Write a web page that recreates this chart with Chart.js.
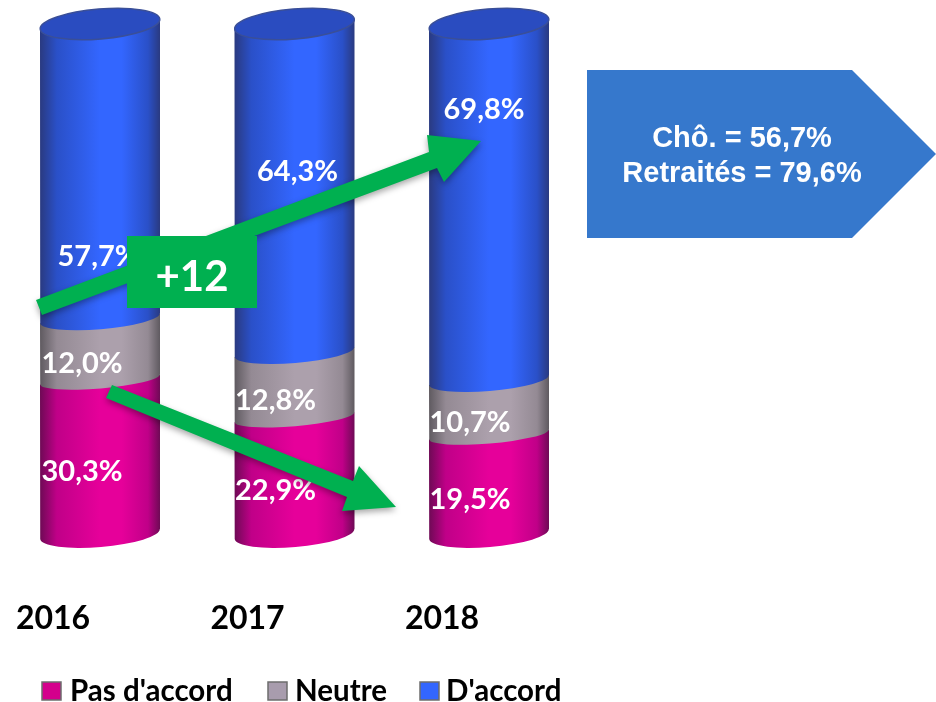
<!DOCTYPE html>
<html>
<head>
<meta charset="utf-8">
<script src="https://cdn.jsdelivr.net/npm/chart.js@4"></script>
<style>
  html, body { margin: 0; padding: 0; background: #fff; overflow: hidden; }
  #wrap { width: 936px; height: 702px; }
</style>
</head>
<body>
<div id="wrap"><canvas id="chart" width="936" height="702"></canvas></div>
<script>
const years = ['2016', '2017', '2018'];
const pasAccord = [30.3, 22.9, 19.5];
const neutre = [12.0, 12.8, 10.7];
const accord = [57.7, 64.3, 69.8];

// labels were placed by hand in the original, so they sit off the segment centre
const labelShiftX = [[-18, -19, -19], [-18, -19, -19], [-2, 3, -5]];
const labelShiftY = [[15, 15, 15], [15, 16, 15], [86, -16, -92]];

const TILT = Math.atan(-10 / 120);
const FONT = 'Lato, sans-serif';

// edge, mid, centre colours of each cylinder segment
const shades = [
  ['#6e0a55', '#c00088', '#e6009a'],
  ['#5f5a60', '#948a94', '#aca0ac'],
  ['#2a3a80', '#2a50c8', '#3366ff']
];
const bulges = [13, 9, 11];

function bodyGradient(ctx, left, right, s) {
  const g = ctx.createLinearGradient(left, 0, right, 0);
  g.addColorStop(0, s[0]);
  g.addColorStop(0.14, s[1]);
  g.addColorStop(0.5, s[2]);
  g.addColorStop(0.68, s[2]);
  g.addColorStop(0.9, s[1]);
  g.addColorStop(1, s[0]);
  return g;
}

function drawSegment(ctx, bar, s, bulge) {
  const rx = bar.width / 2;
  const dy = Math.sin(TILT) * rx;
  ctx.beginPath();
  ctx.moveTo(bar.x - rx, bar.y - dy);
  ctx.lineTo(bar.x + rx, bar.y + dy);
  ctx.lineTo(bar.x + rx, bar.base + dy);
  ctx.ellipse(bar.x, bar.base, rx, bulge, TILT, 0, Math.PI);
  ctx.closePath();
  ctx.fillStyle = bodyGradient(ctx, bar.x - rx, bar.x + rx, s);
  ctx.fill();
}

function polygon(ctx, pts, color) {
  ctx.save();
  ctx.shadowColor = 'rgba(0,0,0,0.35)';
  ctx.shadowBlur = 6;
  ctx.shadowOffsetY = 3;
  ctx.beginPath();
  pts.forEach((p, i) => i ? ctx.lineTo(p[0], p[1]) : ctx.moveTo(p[0], p[1]));
  ctx.closePath();
  ctx.fillStyle = color;
  ctx.fill();
  ctx.restore();
}

const cylinders = {
  id: 'cylinders',
  beforeDatasetDraw() {
    return false; // bars are painted below, bottom segment first
  },
  afterDatasetsDraw(chart) {
    const ctx = chart.ctx;
    ctx.save();
    chart.data.datasets.forEach((ds, d) => {
      chart.getDatasetMeta(d).data.forEach(bar => {
        drawSegment(ctx, bar, shades[d], bulges[d]);
      });
    });
    // open top of each cylinder
    chart.getDatasetMeta(2).data.forEach(bar => {
      ctx.beginPath();
      ctx.ellipse(bar.x, bar.y, bar.width / 2, 15, TILT, 0, Math.PI * 2);
      ctx.fillStyle = '#2a4cc0';
      ctx.fill();
      ctx.lineWidth = 1.5;
      ctx.strokeStyle = '#3a4f98';
      ctx.stroke();
    });
    // value labels
    ctx.font = 'bold 29px ' + FONT;
    ctx.fillStyle = '#fff';
    ctx.textAlign = 'center';
    ctx.textBaseline = 'middle';
    chart.data.datasets.forEach((ds, d) => {
      chart.getDatasetMeta(d).data.forEach((bar, i) => {
        const text = ds.data[i].toFixed(1).replace('.', ',') + '%';
        const y = (bar.y + bar.base) / 2;
        ctx.fillText(text, bar.x + labelShiftX[d][i], y + labelShiftY[d][i]);
      });
    });
    ctx.restore();
  },
  afterDraw(chart) {
    const ctx = chart.ctx;
    ctx.save();

    // trend arrows
    polygon(ctx, [[36, 300], [429, 152], [427, 135], [481, 141], [444, 182], [437, 168], [42, 315]], '#00b050');
    polygon(ctx, [[112, 385], [353, 481], [359, 466], [396, 507], [342, 511], [347, 497], [106, 398]], '#00b050');

    // +12 box
    ctx.fillStyle = '#00b050';
    ctx.fillRect(127, 236, 130, 72);
    ctx.fillStyle = '#fff';
    ctx.font = 'bold 42px ' + FONT;
    ctx.textAlign = 'center';
    ctx.textBaseline = 'middle';
    ctx.fillText('+12', 192, 277);

    // callout
    ctx.beginPath();
    ctx.moveTo(587, 70);
    ctx.lineTo(852, 70);
    ctx.lineTo(936, 154);
    ctx.lineTo(852, 238);
    ctx.lineTo(587, 238);
    ctx.closePath();
    ctx.fillStyle = '#3678cc';
    ctx.fill();
    ctx.fillStyle = '#fff';
    ctx.font = 'bold 29px "Liberation Sans", Arial, sans-serif';
    ctx.fillText('Chô. = 56,7%', 742, 139);
    ctx.fillText('Retraités = 79,6%', 742, 174);

    // legend
    const boxX = [42, 268, 420];
    const textX = [70, 295, 446];
    ctx.textAlign = 'left';
    ctx.textBaseline = 'alphabetic';
    ctx.font = 'bold 29.5px ' + FONT;
    chart.data.datasets.forEach((ds, d) => {
      ctx.fillStyle = ds.backgroundColor;
      ctx.fillRect(boxX[d], 682, 19, 18);
      ctx.lineWidth = 1.5;
      ctx.strokeStyle = '#6d6d6d';
      ctx.strokeRect(boxX[d], 682, 19, 18);
      ctx.fillStyle = '#000';
      ctx.fillText(ds.label, textX[d], 701);
    });
    ctx.restore();
  }
};

new Chart(document.getElementById('chart'), {
  type: 'bar',
  data: {
    labels: years,
    datasets: [
      { label: "Pas d'accord", data: pasAccord, backgroundColor: '#d4008c' },
      { label: 'Neutre', data: neutre, backgroundColor: '#a89cad' },
      { label: "D'accord", data: accord, backgroundColor: '#3366ff' }
    ]
  },
  options: {
    responsive: false,
    animation: false,
    layout: { padding: { top: 24, left: 2.75, right: 349.75, bottom: 0 } },
    datasets: { bar: { barPercentage: 1, categoryPercentage: 0.617 } },
    plugins: {
      legend: { display: false },
      tooltip: { enabled: false }
    },
    scales: {
      x: {
        stacked: true,
        grid: { display: false, drawTicks: false },
        border: { display: false },
        afterFit(scale) {
          scale.height = 168;
          scale.paddingLeft = 0; // tick labels are shifted, so don't reserve room for them
          scale.paddingRight = 0;
        },
        ticks: {
          color: '#000',
          padding: 65,
          labelOffset: -47,
          maxRotation: 0,
          font: { family: 'Lato', size: 32, weight: 'bold' }
        }
      },
      y: { stacked: true, display: false, min: 0, max: 100 }
    }
  },
  plugins: [cylinders]
});
</script>
</body>
</html>
